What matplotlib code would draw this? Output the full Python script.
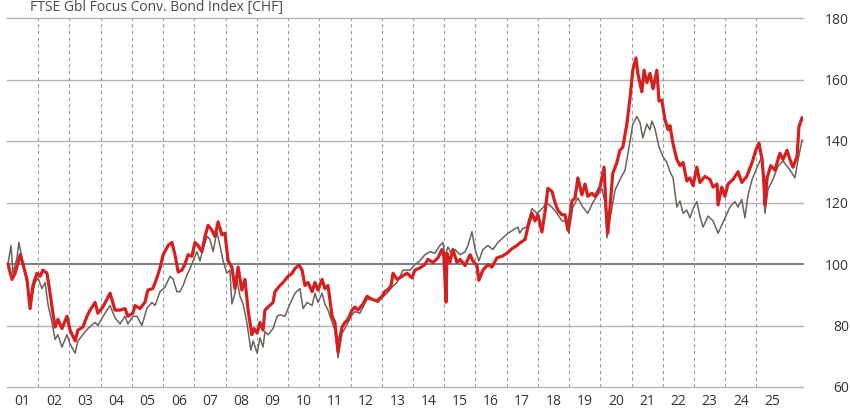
import matplotlib
matplotlib.use("Agg")
import matplotlib.pyplot as plt
import numpy as np

plt.rcParams['font.family'] = ['Open Sans', 'DejaVu Sans']

# Convertible bond index in CHF (red) and comparison index (grey), rebased to 100
red_t = [2001.03, 2001.16, 2001.26, 2001.42, 2001.51, 2001.64, 2001.74, 2001.83, 2001.96,
         2002.06, 2002.15, 2002.28, 2002.38, 2002.47, 2002.54, 2002.63, 2002.76, 2002.92,
         2003.02, 2003.18, 2003.27, 2003.43, 2003.56, 2003.66, 2003.82, 2003.91,
         2004.07, 2004.30, 2004.46, 2004.62, 2004.78, 2004.87,
         2005.03, 2005.10, 2005.26, 2005.42, 2005.51, 2005.67, 2005.80, 2005.90,
         2006.00, 2006.16, 2006.28, 2006.38, 2006.48, 2006.60, 2006.70, 2006.80, 2006.92,
         2007.02, 2007.12, 2007.24, 2007.34, 2007.44, 2007.56, 2007.66, 2007.76, 2007.88, 2007.98,
         2008.08, 2008.20, 2008.30, 2008.40, 2008.52, 2008.62, 2008.72, 2008.84, 2008.91,
         2009.01, 2009.10, 2009.20, 2009.26, 2009.36, 2009.52, 2009.58, 2009.74, 2009.84,
         2010.00, 2010.13, 2010.22, 2010.35, 2010.45, 2010.54, 2010.64, 2010.77, 2010.86, 2010.96,
         2011.09, 2011.18, 2011.28, 2011.41, 2011.50, 2011.60, 2011.66, 2011.73, 2011.82, 2011.92,
         2012.05, 2012.14, 2012.24, 2012.40, 2012.53, 2012.69, 2012.85,
         2013.01, 2013.10, 2013.20, 2013.30, 2013.36, 2013.49, 2013.65, 2013.81, 2013.97,
         2014.06, 2014.22, 2014.38, 2014.48, 2014.64, 2014.80, 2014.93, 2014.99,
         2015.06, 2015.09, 2015.18, 2015.28, 2015.41, 2015.51, 2015.67, 2015.83, 2015.92,
         2016.05, 2016.11, 2016.24, 2016.40, 2016.53, 2016.69, 2016.85,
         2017.01, 2017.17, 2017.33, 2017.42, 2017.59, 2017.68, 2017.81, 2017.91,
         2018.00, 2018.13, 2018.23, 2018.32, 2018.45, 2018.55, 2018.64, 2018.77, 2018.87, 2018.96,
         2019.09, 2019.19, 2019.28, 2019.41, 2019.51, 2019.60, 2019.73, 2019.83, 2019.99,
         2020.12, 2020.18, 2020.24, 2020.31, 2020.40, 2020.53, 2020.63, 2020.72, 2020.85, 2020.95,
         2021.04, 2021.14, 2021.20, 2021.33, 2021.40, 2021.49, 2021.59, 2021.69, 2021.81, 2021.88, 2021.97,
         2022.07, 2022.17, 2022.23, 2022.33, 2022.45, 2022.55, 2022.65, 2022.77, 2022.87, 2022.97,
         2023.09, 2023.19, 2023.35, 2023.51, 2023.61, 2023.74, 2023.77, 2023.89, 2023.99,
         2024.09, 2024.25, 2024.41, 2024.53, 2024.69, 2024.86, 2024.98,
         2025.08, 2025.18, 2025.24, 2025.27, 2025.34, 2025.46, 2025.59, 2025.75, 2025.85, 2025.98,
         2026.07, 2026.17, 2026.30, 2026.36, 2026.46]
red_v = [100, 95, 97, 103, 100, 95, 85.5, 93, 97,
         96, 98, 97, 90.5, 84, 79.5, 82, 79, 83,
         78.5, 75, 78.5, 79.5, 83, 85, 87.5, 84,
         86, 90.5, 85, 85, 85.5, 83,
         84, 86.5, 85.5, 87.6, 91.5, 92, 95.5, 98.7,
         103, 106, 107, 103, 97.4, 98, 100, 103, 102.5,
         107, 106, 104, 109, 112.6, 111, 109, 113.7, 109.5, 110,
         101, 99, 92, 99, 91.5, 95, 85, 77, 79,
         77.5, 81, 78.5, 85, 86, 87.5, 91, 93, 94,
         96, 97, 98.5, 99.7, 98, 93, 94, 91, 94, 91.5,
         95, 92, 93, 83, 81, 71.5, 76, 79.5, 81, 82,
         85, 86, 85, 87, 89.5, 88.5, 88,
         89.5, 91, 91.7, 93, 97, 95, 96, 97, 95.5,
         98, 98.7, 99.8, 101.5, 100.5, 102, 104.7, 102.5,
         87.6, 103.5, 100.5, 104.7, 100.5, 101.5, 99.5, 103, 101,
         99.5, 94.7, 98, 99.8, 99, 102, 102.5,
         103.5, 105, 106, 106.8, 108, 112, 116.5, 114,
         116, 110.4, 117, 124.6, 123.6, 120, 117.5, 116, 116, 111,
         120.5, 121.5, 128, 122.5, 126, 122, 123, 122, 125,
         131.5, 118.5, 110, 118.5, 129.5, 133, 137, 138, 145.5, 154,
         163, 167, 162, 156, 163, 159, 162, 157, 163, 153, 153.3,
         147, 143.7, 145, 139, 134, 132, 133, 127, 128, 125.5,
         131.5, 126.5, 128.5, 127.5, 125, 126, 119.2, 125, 122,
         126, 127.5, 130, 126.5, 128.5, 133, 137,
         139.3, 134, 126.3, 119.2, 128, 132, 130.5, 136, 134, 137,
         134, 131.5, 135, 144.6, 147.5]

grey_t = [2001.03, 2001.13, 2001.19, 2001.32, 2001.38, 2001.48, 2001.58, 2001.67, 2001.74, 2001.90, 2001.99,
          2002.12, 2002.22, 2002.31, 2002.44, 2002.54, 2002.63, 2002.76, 2002.92,
          2003.02, 2003.18, 2003.27, 2003.43, 2003.59, 2003.82, 2003.91,
          2004.14, 2004.30, 2004.46, 2004.62, 2004.78, 2004.87,
          2005.03, 2005.16, 2005.32, 2005.48, 2005.64, 2005.74, 2005.90,
          2006.06, 2006.22, 2006.32, 2006.44, 2006.54, 2006.64, 2006.76, 2006.86, 2006.96,
          2007.08, 2007.18, 2007.28, 2007.41, 2007.50, 2007.60, 2007.72, 2007.82, 2007.92,
          2008.04, 2008.14, 2008.20, 2008.30, 2008.36, 2008.46, 2008.56, 2008.68, 2008.81, 2008.88,
          2009.01, 2009.10, 2009.20, 2009.26, 2009.36, 2009.52, 2009.65, 2009.74, 2009.90,
          2010.06, 2010.22, 2010.38, 2010.48, 2010.61, 2010.77, 2010.86, 2010.96,
          2011.09, 2011.18, 2011.28, 2011.41, 2011.50, 2011.60, 2011.73, 2011.82, 2011.92,
          2012.05, 2012.14, 2012.30, 2012.53, 2012.72, 2012.88,
          2013.01, 2013.17, 2013.33, 2013.49, 2013.68, 2013.91,
          2014.06, 2014.22, 2014.38, 2014.54, 2014.70, 2014.86, 2014.96,
          2015.02, 2015.12, 2015.25, 2015.35, 2015.51, 2015.67, 2015.76, 2015.89, 2015.99,
          2016.11, 2016.24, 2016.40, 2016.56, 2016.72, 2016.88,
          2017.04, 2017.20, 2017.36, 2017.42, 2017.51, 2017.64, 2017.81, 2017.97,
          2018.13, 2018.29, 2018.45, 2018.61, 2018.77, 2018.93, 2018.99,
          2019.12, 2019.28, 2019.44, 2019.60, 2019.76, 2019.92,
          2020.05, 2020.15, 2020.21, 2020.34, 2020.47, 2020.63, 2020.79, 2020.92,
          2021.04, 2021.17, 2021.27, 2021.36, 2021.49, 2021.59, 2021.65, 2021.75, 2021.88,
          2022.00, 2022.13, 2022.23, 2022.33, 2022.45, 2022.55, 2022.65, 2022.77, 2022.87, 2022.97,
          2023.09, 2023.19, 2023.29, 2023.45, 2023.61, 2023.77, 2023.89, 2023.99,
          2024.15, 2024.31, 2024.41, 2024.53, 2024.63, 2024.73, 2024.86,
          2025.02, 2025.18, 2025.27, 2025.37, 2025.53, 2025.69, 2025.85, 2025.98,
          2026.07, 2026.23, 2026.33, 2026.46]
grey_v = [100, 106, 97, 102, 107, 102, 97, 92, 87, 94, 95.5,
          92, 94, 87, 81, 75.5, 77, 73, 77,
          74, 71, 75, 77, 79, 81, 80,
          84, 86.5, 82.5, 80.5, 83, 80.5,
          83, 83, 80, 85.6, 87.5, 86.5, 91,
          92.5, 96, 95, 91, 91, 93, 96.4, 98.5, 101,
          104, 101, 105, 109, 108, 104, 110.5, 106, 101,
          97, 98, 87, 90.5, 95, 89.5, 87, 81, 72, 75,
          71, 76, 73, 78, 77, 79, 83, 83.5, 83,
          87, 90.5, 92, 85.5, 87.5, 86.5, 90.5, 87.5,
          90.5, 87, 85, 81, 78.5, 69.5, 77.5, 79, 81,
          83.5, 84.5, 84, 88.5, 88.5, 87.5,
          89, 90.5, 92.5, 94, 98, 98,
          99.8, 101, 103, 104, 103.5, 106, 107,
          102.5, 105.5, 103, 104.7, 103, 104, 106, 110.5, 104.7,
          101, 104.7, 106, 104.7, 107, 108.5,
          110, 111, 112, 110, 111.5, 112, 118, 116.5,
          118, 119.8, 118.5, 116.5, 114, 114, 110,
          118.5, 121.5, 118.5, 116.5, 120, 122.5,
          124.5, 120, 108.5, 116.5, 124, 127.5, 130.5, 138,
          145.5, 148, 146, 141, 145.5, 143.6, 146.5, 144, 138,
          135, 133, 130, 128, 118.5, 120.5, 116.5, 117.5, 115, 118,
          120.3, 115.6, 112, 115.6, 114, 110, 112.7, 115,
          118.5, 120.3, 118.5, 121, 115, 122.5, 127.5,
          131.5, 135, 116.5, 124.3, 127.6, 131.8, 133.5, 131.8,
          130.6, 128, 133.7, 140.3]

year_labels = ["01", "02", "03", "04", "05", "06", "07", "08", "09", "10", "11", "12", "13",
               "14", "15", "16", "17", "18", "19", "20", "21", "22", "23", "24", "25"]
y_ticks = [60, 80, 100, 120, 140, 160, 180]
title_text = "FTSE Gbl Focus Conv. Bond Index [CHF]"

W, H = 850, 412
fig = plt.figure(figsize=(W / 100, H / 100), dpi=100)
ax = fig.add_axes([7 / W, 25 / H, 796 / W, 369 / H])

x0, x1 = 2001.0, 2026.49
ax.set_xlim(x0, x1)
ax.set_ylim(60, 180)

# horizontal grid
for v in y_ticks:
    if v == 100:
        ax.axhline(v, color="#5a5a5a", lw=1.1, zorder=1, clip_on=False)
    else:
        ax.axhline(v, color="#b4b4b4", lw=1.0, zorder=1, clip_on=False)

# dashed year boundaries
for i in range(1, len(year_labels)):
    ax.axvline(2001 + i, color="#9a9a9a", lw=0.8, ls=(0, (3, 3)), zorder=1)

ax.plot(grey_t, grey_v, color="#6b635b", lw=1.1, zorder=2)
ax.plot(red_t, red_v, color="#d61f1f", lw=2.3, zorder=3, solid_joinstyle="round")

for s in ax.spines.values():
    s.set_visible(False)

# right-hand value axis
ax.yaxis.tick_right()
ax.set_yticks(y_ticks)
ax.set_yticklabels([str(v) for v in y_ticks])
ax.tick_params(axis="y", length=0, pad=33, labelsize=10, labelcolor="#333333")
for lab in ax.get_yticklabels():
    lab.set_horizontalalignment("right")

# year labels centred in each year
ax.set_xticks([2001 + i + 0.5 for i in range(len(year_labels))])
ax.set_xticklabels(year_labels)
ax.tick_params(axis="x", length=0, pad=5, labelsize=10, labelcolor="#333333")

fig.text(30 / W, 1 - 11 / H, title_text, fontsize=10, color="#4a4a4a",
         ha="left", va="baseline")

fig.savefig("out.png", dpi=100)
